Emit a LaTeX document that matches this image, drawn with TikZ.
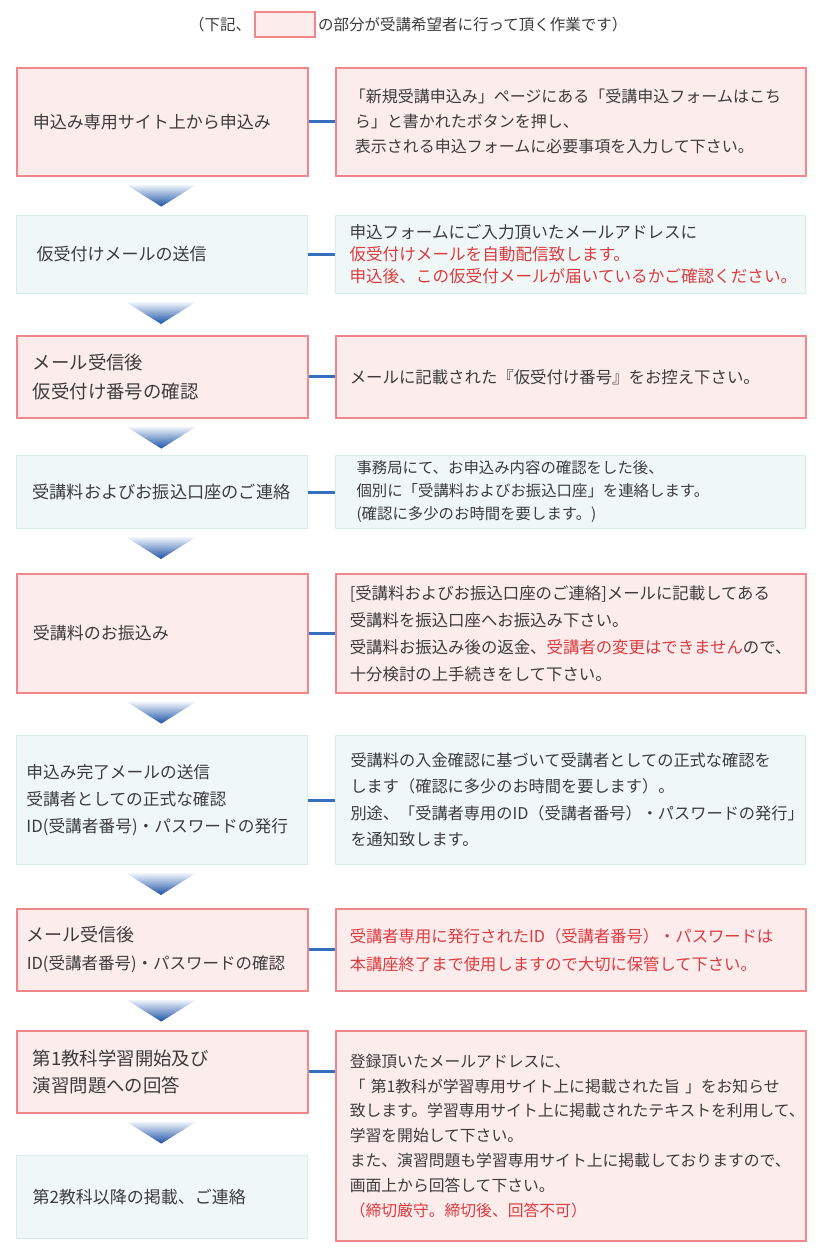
\documentclass[tikz,border=0pt]{standalone}
\usepackage{fontspec}
\setmainfont{Noto Sans CJK JP}
\usetikzlibrary{calc}
\definecolor{pinkfill}{HTML}{FDECEC}
\definecolor{pinkline}{HTML}{F2878B}
\definecolor{cyanfill}{HTML}{F0F8F7}
\definecolor{cyanline}{HTML}{D6EEEA}
\definecolor{conn}{HTML}{3470BE}
\definecolor{txt}{HTML}{3C3C3C}
\definecolor{redtxt}{HTML}{DC3B40}
\definecolor{arrtop}{HTML}{F2F6FC}
\definecolor{arrbot}{HTML}{1B52A6}
\newcommand{\rd}[1]{\textcolor{redtxt}{#1}}
\newcommand{\fs}[2]{\fontsize{#1}{#2}\selectfont}
\begin{document}
\begin{tikzpicture}[x=1pt,y=-1pt,
  box/.style={anchor=north west, align=left, text=txt, inner ysep=0pt,
    font=\fs{16}{25}},
  pinkbox/.style={box, draw=pinkline, line width=1.6pt, fill=pinkfill},
  cyanbox/.style={box, draw=cyanline, line width=1pt, fill=cyanfill},
  lw/.style={minimum width=291pt, text width=259pt, inner xsep=16pt},
  rw/.style={minimum width=470pt, text width=442pt, inner xsep=14pt},
  connline/.style={draw=conn, line width=3pt},
  arrowshade/.style={top color=arrtop, bottom color=arrbot},
  hdr/.style={anchor=west, text=txt, inner sep=0pt, font=\fs{15.5}{18}}
]
\useasboundingbox[fill=white] (0,0) rectangle (820,1256);

% header
\node[hdr] (h1) at (189,25) {（下記、};
\node[draw=pinkline, line width=1.6pt, fill=pinkfill, minimum width=60pt, minimum height=25pt, inner sep=0pt] (hb) at (285,24.5) {};
\node[hdr] (h2) at (318,25) {の部分が受講希望者に行って頂く作業です）};

% row 1
\node[pinkbox, lw, minimum height=108pt, font=\fs{17}{25}] (l1) at (16,67) {申込み専用サイト上から申込み};
\node[pinkbox, rw, minimum height=108pt] (r1) at (335,67) {「新規受講申込み」ページにある「受講申込フォームはこち\\\hspace*{5pt}ら」と書かれたボタンを押し、\\\hspace*{5pt}表示される申込フォームに必要事項を入力して下さい。};
% row 2
\node[cyanbox, lw, inner xsep=20pt, text width=251pt, minimum height=78pt, font=\fs{17}{25}] (l2) at (16,215) {仮受付けメールの送信};
\node[cyanbox, rw, minimum height=78pt, font=\fs{16.6}{22}] (r2) at (335,215) {申込フォームにご入力頂いたメールアドレスに\\\rd{仮受付けメールを自動配信致します。}\\\rd{申込後、この仮受付メールが届いているかご確認ください。}};
% row 3
\node[pinkbox, lw, minimum height=82pt, font=\fs{18.4}{29}] (l3) at (16,335) {メール受信後\\仮受付け番号の確認};
\node[pinkbox, rw, minimum height=82pt, font=\fs{16.4}{25}] (r3) at (335,335) {メールに記載された『仮受付け番号』をお控え下さい。};
% row 4
\node[cyanbox, lw, minimum height=73pt, font=\fs{17.2}{25}] (l4) at (16,455) {受講料およびお振込口座のご連絡};
\node[cyanbox, rw, inner xsep=21pt, text width=428pt, minimum height=73pt, font=\fs{15.4}{23}] (r4) at (335,455) {事務局にて、お申込み内容の確認をした後、\\個別に「受講料およびお振込口座」を連絡します。\\(確認に多少のお時間を要します。)};
% row 5
\node[pinkbox, lw, minimum height=119pt, font=\fs{17}{25}] (l5) at (16,573) {受講料のお振込み};
\node[pinkbox, rw, minimum height=119pt, font=\fs{16.4}{27}] (r5) at (335,573) {[受講料およびお振込口座のご連絡]メールに記載してある\\受講料を振込口座へお振込み下さい。\\受講料お振込み後の返金、\rd{受講者の変更はできません}ので、\\十分検討の上手続きをして下さい。};
% row 6
\node[cyanbox, lw, inner xsep=10pt, text width=271pt, minimum height=129pt, font=\fs{16.7}{27}] (l6) at (16,735) {申込み完了メールの送信\\受講者としての正式な確認\\ID(受講者番号)・パスワードの発行};
\node[cyanbox, rw, inner xsep=15pt, text width=440pt, minimum height=129pt, font=\fs{16.2}{26.5}] (r6) at (335,735) {受講料の入金確認に基づいて受講者としての正式な確認を\\します（確認に多少のお時間を要します）。\\別途、「受講者専用のID（受講者番号）・パスワードの発行」\\を通知致します。};
% row 7
\node[pinkbox, lw, inner xsep=10pt, text width=271pt, minimum height=82pt, font=\fs{16.5}{28}] (l7) at (16,908) {{\fs{18}{28}メール受信後}\\ID(受講者番号)・パスワードの確認};
\node[pinkbox, rw, minimum height=82pt, font=\fs{16.3}{28}] (r7) at (335,908) {\rd{受講者専用に発行されたID（受講者番号）・パスワードは}\\\rd{本講座終了まで使用しますので大切に保管して下さい。}};
% row 8
\node[pinkbox, lw, minimum height=82pt, font=\fs{18.4}{27}] (l8) at (16,1030) {第1教科学習開始及び\\演習問題への回答};
\node[pinkbox, rw, minimum height=210pt, font=\fs{15.8}{24.8}] (r8) at (335,1030) {登録頂いたメールアドレスに、\\「 第1教科が学習専用サイト上に掲載された旨 」をお知らせ\\致します。学習専用サイト上に掲載されたテキストを利用して、\\学習を開始して下さい。\\また、演習問題も学習専用サイト上に掲載しておりますので、\\画面上から回答して下さい。\\\rd{（締切厳守。締切後、回答不可）}};
% row 9
\node[cyanbox, lw, minimum height=83pt, font=\fs{17}{25}] (l9) at (16,1155) {第2教科以降の掲載、ご連絡};

% connectors
\draw[connline] (l1.east) -- (r1.west);
\draw[connline] (l2.east) -- (r2.west);
\draw[connline] (l3.east) -- (r3.west);
\draw[connline] (l4.east) -- (r4.west);
\draw[connline] (l5.east) -- (r5.west);
\draw[connline] (l6.east) -- (r6.west);
\draw[connline] (l7.east) -- (r7.west);
\draw[connline] (l8.east) -- (l8.east -| r8.west);

% down arrows
\foreach \b in {l1,l2,l3,l4,l5,l6,l7,l8}{
  \shade[arrowshade] ($(\b.south)+(-36,8)$) -- ($(\b.south)+(34,8)$) -- ($(\b.south)+(-1,30)$) -- cycle;
}
\end{tikzpicture}
\end{document}
